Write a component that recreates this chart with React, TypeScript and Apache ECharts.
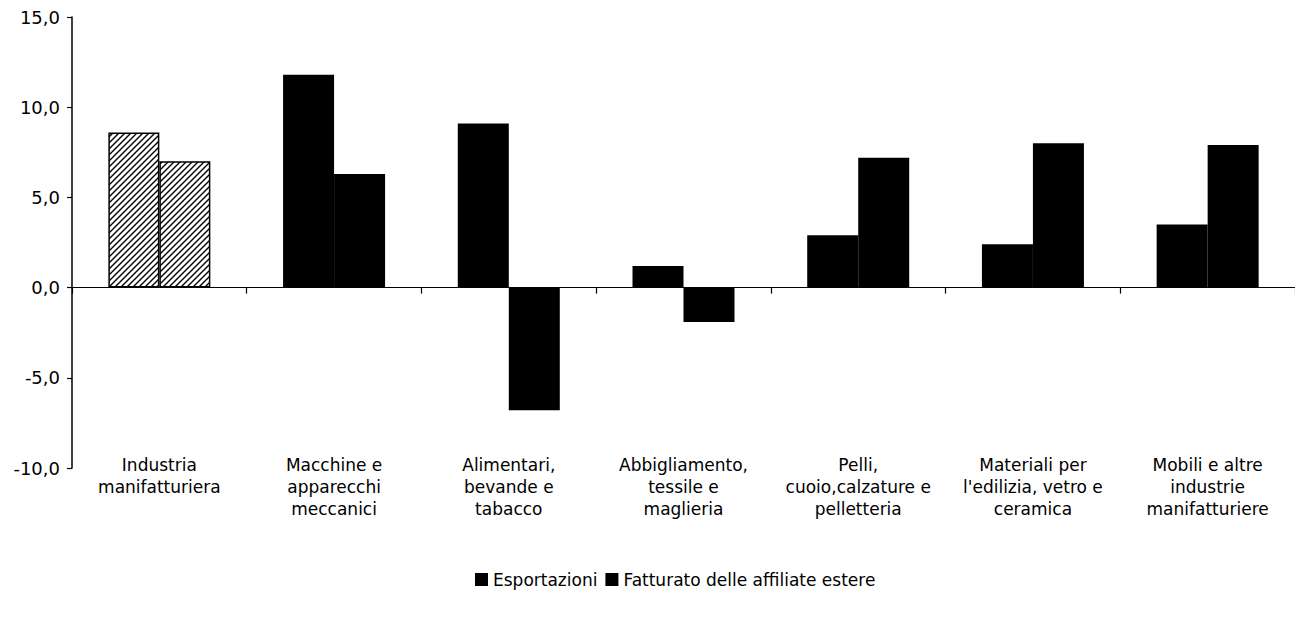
import React, { useEffect, useRef } from "react";
import * as echarts from "echarts";

const categories = [
  "Industria\nmanifatturiera",
  "Macchine e\napparecchi\nmeccanici",
  "Alimentari,\nbevande e\ntabacco",
  "Abbigliamento,\ntessile e\nmaglieria",
  "Pelli,\ncuoio,calzature e\npelletteria",
  "Materiali per\nl'edilizia, vetro e\nceramica",
  "Mobili e altre\nindustrie\nmanifatturiere",
];
const esportazioni = [8.6, 11.8, 9.1, 1.2, 2.9, 2.4, 3.5];
const fatturato = [7.0, 6.3, -6.8, -1.9, 7.2, 8.0, 7.9];
const seriesNames = ["Esportazioni", "Fatturato delle affiliate estere"];
const yMin = -10;
const yMax = 15;
const yStep = 5;

const FONT = "DejaVu Sans";

function makeHatch(): HTMLCanvasElement {
  const c = document.createElement("canvas");
  c.width = 6;
  c.height = 6;
  const ctx = c.getContext("2d")!;
  ctx.fillStyle = "#fff";
  ctx.fillRect(0, 0, 6, 6);
  ctx.strokeStyle = "#000";
  ctx.lineWidth = 1.4;
  ctx.beginPath();
  ctx.moveTo(-1, 7);
  ctx.lineTo(7, -1);
  ctx.moveTo(-4, 4);
  ctx.lineTo(4, -4);
  ctx.moveTo(2, 10);
  ctx.lineTo(10, 2);
  ctx.stroke();
  return c;
}

export default function App() {
  const ref = useRef<HTMLDivElement>(null);
  useEffect(() => {
    if (!ref.current) return;
    const chart = echarts.init(ref.current, null, { renderer: "svg" });
    const hatch = makeHatch();
    const hatchStyle = {
      color: { image: hatch, repeat: "repeat" } as any,
      borderColor: "#000",
      borderWidth: 1.5,
    };
    const withHatchFirst = (arr: number[]) =>
      arr.map((v, i) => (i === 0 ? { value: v, itemStyle: hatchStyle } : v));

    chart.setOption({
      animation: false,
      backgroundColor: "#fff",
      textStyle: { fontFamily: FONT, color: "#000" },
      grid: { left: 72, right: 0, top: 17, bottom: 152, containLabel: false },
      legend: {
        data: seriesNames,
        left: 470,
        top: 566,
        icon: "rect",
        itemWidth: 13,
        itemHeight: 13,
        itemGap: 8,
        textStyle: { fontFamily: FONT, fontSize: 17, color: "#000" },
      },
      xAxis: [
        {
          type: "category",
          data: categories,
          position: "top",
          axisLine: { show: true, onZero: true, lineStyle: { color: "#000", width: 1.2 } },
          axisTick: { show: true, inside: true, length: 6, lineStyle: { color: "#000", width: 1.2 } },
          axisLabel: { show: false },
          splitLine: { show: false },
        },
        {
          type: "category",
          data: categories,
          position: "bottom",
          axisLine: { show: false, onZero: false },
          axisTick: { show: false },
          splitLine: { show: false },
          axisLabel: {
            interval: 0,
            margin: -14,
            fontFamily: FONT,
            fontSize: 17,
            lineHeight: 22,
            color: "#000",
          },
        },
      ],
      yAxis: {
        type: "value",
        min: yMin,
        max: yMax,
        interval: yStep,
        axisLine: { show: true, lineStyle: { color: "#000", width: 1.5 } },
        axisTick: { show: true, length: 5, lineStyle: { color: "#000", width: 1.2 } },
        splitLine: { show: false },
        axisLabel: {
          margin: 12,
          fontFamily: FONT,
          fontSize: 18,
          color: "#000",
          formatter: (v: number) => v.toFixed(1).replace(".", ","),
        },
      },
      series: [
        {
          name: seriesNames[0],
          type: "bar",
          xAxisIndex: 0,
          barWidth: 51,
          barGap: "0%",
          itemStyle: { color: "#000" },
          data: withHatchFirst(esportazioni),
        },
        {
          name: seriesNames[1],
          type: "bar",
          xAxisIndex: 0,
          barWidth: 51,
          barGap: "0%",
          itemStyle: { color: "#000" },
          data: withHatchFirst(fatturato),
        },
      ],
    });
    return () => chart.dispose();
  }, []);
  return (
    <div
      ref={ref}
      style={{ position: "fixed", left: 0, top: 0, width: 1295, height: 620 }}
    />
  );
}
